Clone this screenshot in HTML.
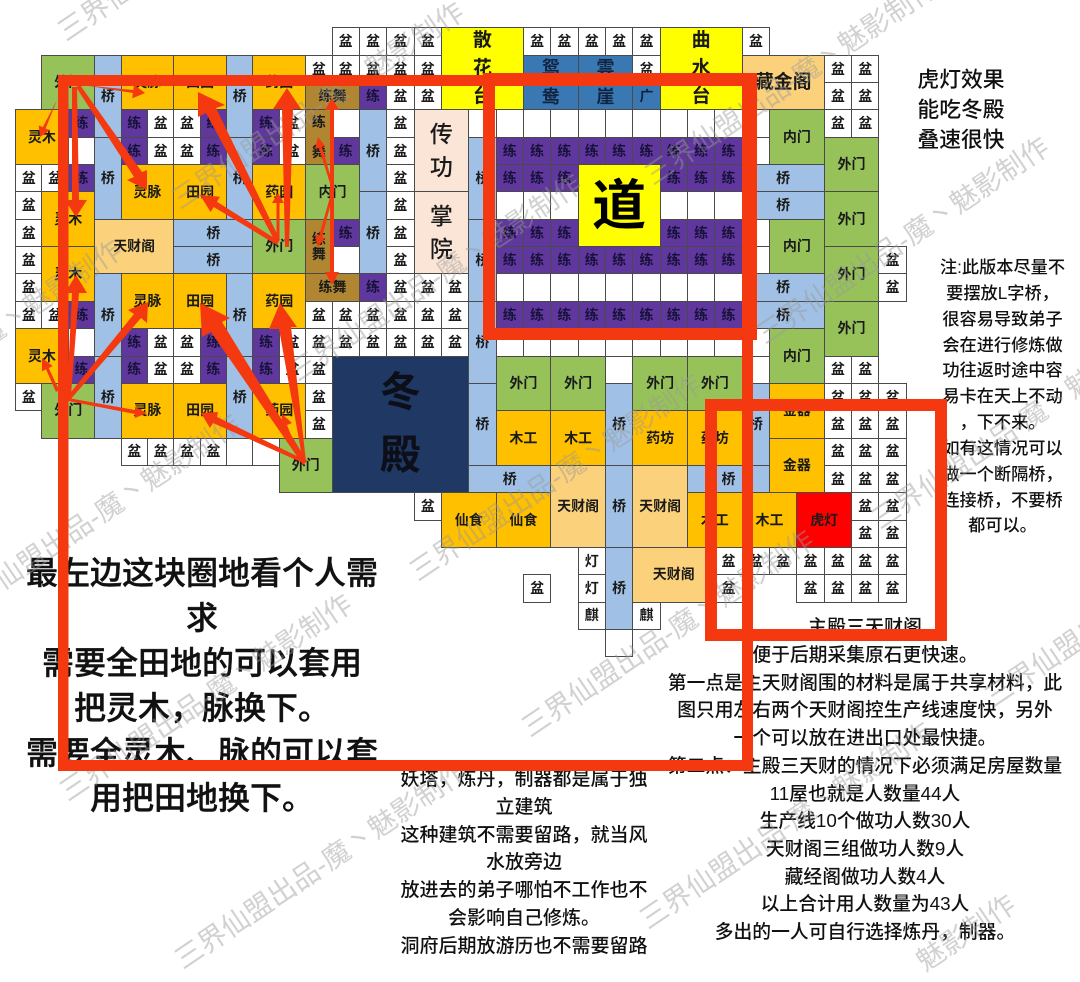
<!DOCTYPE html>
<html><head><meta charset="utf-8"><style>
html,body{margin:0;padding:0;background:#fff;width:1080px;height:982px;overflow:hidden}
#p{position:relative;width:1080px;height:982px;overflow:hidden;background:#fff;font-family:"Liberation Sans","Noto Sans CJK SC",sans-serif;color:#111}
#g{position:absolute;left:15px;top:27.4px;display:grid;grid-template-columns:repeat(12,26.39px) repeat(21,27.35px);grid-template-rows:repeat(23,27.35px);filter:blur(.35px)}
#g b{display:flex;align-items:center;justify-content:center;border:1px solid #4a4a4a;margin:0 -1px -1px 0;font-size:14px;font-weight:700;text-align:center;line-height:1.05;background:#fff;color:#1a1a1a;min-width:0;min-height:0}
#g b.o{background:#FFC000}#g b.l{background:#FBD27B}#g b.a{background:#97C25A}#g b.q{background:#A0C1E5}
#g b.p{background:#60379C;color:#17123a}#g b.y{background:#FF0;font-size:19px;font-weight:700;line-height:28px}
#g b.s{background:#3A78B4;font-size:18px;font-weight:700;line-height:29px;color:#10233f}
#g b.r{background:#B08632}#g b.k{background:#FBE5D6;font-size:23px;line-height:33px;font-weight:500}
#g b.h{background:#F00}
.t{position:absolute;text-align:center;white-space:nowrap}
svg{position:absolute;left:0;top:0;overflow:hidden}
</style></head><body><div id="p">
<div id="g">
<b style="grid-area:1/13">盆</b><b style="grid-area:1/14">盆</b><b style="grid-area:1/15">盆</b><b style="grid-area:1/16">盆</b>
<b class="y" style="grid-area:1/17/4/20">散<br>花<br>台</b>
<b style="grid-area:1/20">盆</b><b style="grid-area:1/21">盆</b><b style="grid-area:1/22">盆</b><b style="grid-area:1/23">盆</b><b style="grid-area:1/24">盆</b>
<b class="y" style="grid-area:1/25/4/28">曲<br>水<br>台</b><b style="grid-area:1/28">盆</b>

<b class="a" style="grid-area:2/2/4/4">外门</b><b class="q" style="grid-area:2/4/5/5">桥</b><b class="o" style="grid-area:2/5/4/7">灵脉</b><b class="o" style="grid-area:2/7/4/9">田园</b><b class="q" style="grid-area:2/9/5/10">桥</b><b class="o" style="grid-area:2/10/4/12">药园</b>
<b style="grid-area:2/12">盆</b><b style="grid-area:2/13">盆</b><b style="grid-area:2/14">盆</b><b style="grid-area:2/15">盆</b><b style="grid-area:2/16">盆</b>
<b class="s" style="grid-area:2/20/4/22">鸳<br>鸯</b><b class="s" style="grid-area:2/22/4/24">雲<br>崖</b><b style="grid-area:2/24">盆</b>
<b class="l" style="grid-area:2/28/4/31;font-size:19px;font-weight:700">藏金阁</b><b style="grid-area:2/31">盆</b><b style="grid-area:2/32">盆</b>

<b class="r" style="grid-area:3/12/4/14">练舞</b><b class="p" style="grid-area:3/14">练</b><b style="grid-area:3/15">盆</b><b style="grid-area:3/16">盆</b><b class="s" style="grid-area:3/24;font-size:14px">广</b><b style="grid-area:3/31">盆</b><b style="grid-area:3/32">盆</b>

<b class="o" style="grid-area:4/1/6/3">灵木</b><b class="p" style="grid-area:4/3">练</b><b class="p" style="grid-area:4/5">练</b><b style="grid-area:4/6">盆</b><b style="grid-area:4/7">盆</b><b class="p" style="grid-area:4/8">练</b><b class="p" style="grid-area:4/10">练</b><b style="grid-area:4/11">盆</b>
<b class="r" style="grid-area:4/12/6/13">练<br><br>舞</b><b style="grid-area:4/13"></b><b class="q" style="grid-area:4/14/7/15">桥</b><b style="grid-area:4/15">盆</b>
<b class="k" style="grid-area:4/16/7/18">传<br>功</b>
<b style="grid-area:4/18"></b><b style="grid-area:4/19"></b><b style="grid-area:4/20"></b><b style="grid-area:4/21"></b><b style="grid-area:4/22"></b><b style="grid-area:4/23"></b><b style="grid-area:4/24"></b><b style="grid-area:4/25"></b><b style="grid-area:4/26"></b><b style="grid-area:4/27"></b><b style="grid-area:4/28"></b>
<b class="a" style="grid-area:4/29/6/31">内门</b><b style="grid-area:4/31">盆</b><b style="grid-area:4/32">盆</b>

<b style="grid-area:5/3"></b><b class="q" style="grid-area:5/4/8/5">桥</b><b class="p" style="grid-area:5/5">练</b><b style="grid-area:5/6">盆</b><b style="grid-area:5/7">盆</b><b class="p" style="grid-area:5/8">练</b><b class="q" style="grid-area:5/9/8/10">桥</b><b class="p" style="grid-area:5/10">练</b><b style="grid-area:5/11">盆</b>
<b class="p" style="grid-area:5/13">练</b><b style="grid-area:5/15">盆</b><b class="q" style="grid-area:5/18/8/19">桥</b>
<b class="p" style="grid-area:5/19">练</b><b class="p" style="grid-area:5/20">练</b><b class="p" style="grid-area:5/21">练</b><b class="p" style="grid-area:5/22">练</b><b class="p" style="grid-area:5/23">练</b><b class="p" style="grid-area:5/24">练</b><b class="p" style="grid-area:5/25">练</b><b class="p" style="grid-area:5/26">练</b><b class="p" style="grid-area:5/27">练</b>
<b style="grid-area:5/28"></b><b class="a" style="grid-area:5/31/7/33">外门</b>

<b style="grid-area:6/1">盆</b><b style="grid-area:6/2">盆</b><b class="p" style="grid-area:6/3">练</b><b class="o" style="grid-area:6/5/8/7">灵脉</b><b class="o" style="grid-area:6/7/8/9">田园</b><b class="o" style="grid-area:6/10/8/12">药园</b><b class="a" style="grid-area:6/12/8/14">内门</b><b style="grid-area:6/15">盆</b>
<b class="p" style="grid-area:6/19">练</b><b class="p" style="grid-area:6/20">练</b><b class="p" style="grid-area:6/21">练</b>
<b style="grid-area:6/22/9/25;background:#FF0;font-size:54px;font-weight:700;color:#000;line-height:1">道</b>
<b class="p" style="grid-area:6/25">练</b><b class="p" style="grid-area:6/26">练</b><b class="p" style="grid-area:6/27">练</b><b class="q" style="grid-area:6/28/7/31">桥</b>

<b style="grid-area:7/1">盆</b><b class="o" style="grid-area:7/2/9/4">灵木</b><b class="q" style="grid-area:7/14/10/15">桥</b><b style="grid-area:7/15">盆</b><b class="k" style="grid-area:7/16/10/18">掌<br>院</b>
<b style="grid-area:7/19"></b><b style="grid-area:7/20"></b><b style="grid-area:7/21"></b><b style="grid-area:7/25"></b><b style="grid-area:7/26"></b><b style="grid-area:7/27"></b><b class="q" style="grid-area:7/28/8/31">桥</b><b class="a" style="grid-area:7/31/9/33">外门</b>

<b style="grid-area:8/1">盆</b><b class="l" style="grid-area:8/4/10/7">天财阁</b><b class="q" style="grid-area:8/7/9/10">桥</b><b class="a" style="grid-area:8/10/10/12">外门</b><b class="r" style="grid-area:8/12/10/13">练<br>舞</b><b class="p" style="grid-area:8/13">练</b><b style="grid-area:8/15">盆</b><b class="q" style="grid-area:8/18/11/19">桥</b>
<b class="p" style="grid-area:8/19">练</b><b class="p" style="grid-area:8/20">练</b><b class="p" style="grid-area:8/21">练</b><b class="p" style="grid-area:8/25">练</b><b class="p" style="grid-area:8/26">练</b><b class="p" style="grid-area:8/27">练</b><b style="grid-area:8/28"></b><b class="a" style="grid-area:8/29/10/31">内门</b>

<b style="grid-area:9/1">盆</b><b class="o" style="grid-area:9/2/11/4">灵木</b><b class="q" style="grid-area:9/7/10/10">桥</b><b style="grid-area:9/13"></b><b style="grid-area:9/15">盆</b>
<b class="p" style="grid-area:9/19">练</b><b class="p" style="grid-area:9/20">练</b><b class="p" style="grid-area:9/21">练</b><b class="p" style="grid-area:9/22">练</b><b class="p" style="grid-area:9/23">练</b><b class="p" style="grid-area:9/24">练</b><b class="p" style="grid-area:9/25">练</b><b class="p" style="grid-area:9/26">练</b><b class="p" style="grid-area:9/27">练</b>
<b style="grid-area:9/28"></b><b class="a" style="grid-area:9/31/11/33">外门</b><b style="grid-area:9/33">盆</b>

<b style="grid-area:10/1">盆</b><b class="q" style="grid-area:10/4/13/5">桥</b><b class="o" style="grid-area:10/5/12/7">灵脉</b><b class="o" style="grid-area:10/7/12/9">田园</b><b class="q" style="grid-area:10/9/13/10">桥</b><b class="o" style="grid-area:10/10/12/12">药园</b><b class="r" style="grid-area:10/12/11/14">练舞</b><b class="p" style="grid-area:10/14">练</b><b style="grid-area:10/15">盆</b><b style="grid-area:10/16">盆</b><b style="grid-area:10/17">盆</b>
<b style="grid-area:10/19"></b><b style="grid-area:10/20"></b><b style="grid-area:10/21"></b><b style="grid-area:10/22"></b><b style="grid-area:10/23"></b><b style="grid-area:10/24"></b><b style="grid-area:10/25"></b><b style="grid-area:10/26"></b><b style="grid-area:10/27"></b>
<b class="q" style="grid-area:10/28/11/31">桥</b><b style="grid-area:10/33">盆</b>

<b style="grid-area:11/1">盆</b><b style="grid-area:11/2">盆</b><b class="p" style="grid-area:11/3">练</b><b style="grid-area:11/12">盆</b><b style="grid-area:11/13">盆</b><b style="grid-area:11/14">盆</b><b style="grid-area:11/15">盆</b><b style="grid-area:11/16">盆</b><b style="grid-area:11/17">盆</b><b class="q" style="grid-area:11/18/14/19">桥</b>
<b class="p" style="grid-area:11/19">练</b><b class="p" style="grid-area:11/20">练</b><b class="p" style="grid-area:11/21">练</b><b class="p" style="grid-area:11/22">练</b><b class="p" style="grid-area:11/23">练</b><b class="p" style="grid-area:11/24">练</b><b class="p" style="grid-area:11/25">练</b><b class="p" style="grid-area:11/26">练</b><b class="p" style="grid-area:11/27">练</b>
<b class="q" style="grid-area:11/28/12/31">桥</b><b class="a" style="grid-area:11/31/13/33">外门</b>

<b class="o" style="grid-area:12/1/14/3">灵木</b><b style="grid-area:12/3"></b><b class="p" style="grid-area:12/5">练</b><b style="grid-area:12/6">盆</b><b style="grid-area:12/7">盆</b><b class="p" style="grid-area:12/8">练</b><b class="p" style="grid-area:12/10">练</b><b style="grid-area:12/11">盆</b><b style="grid-area:12/12">盆</b><b style="grid-area:12/13">盆</b><b style="grid-area:12/14">盆</b><b style="grid-area:12/15">盆</b><b style="grid-area:12/16">盆</b><b style="grid-area:12/17">盆</b>
<b style="grid-area:12/19"></b><b style="grid-area:12/20"></b><b style="grid-area:12/21"></b><b style="grid-area:12/22"></b><b style="grid-area:12/23"></b><b style="grid-area:12/24"></b><b style="grid-area:12/25"></b><b style="grid-area:12/26"></b><b style="grid-area:12/27"></b><b style="grid-area:12/28"></b><b class="a" style="grid-area:12/29/14/31">内门</b>

<b class="p" style="grid-area:13/3">练</b><b class="q" style="grid-area:13/4/16/5">桥</b><b class="p" style="grid-area:13/5">练</b><b style="grid-area:13/6">盆</b><b style="grid-area:13/7">盆</b><b class="p" style="grid-area:13/8">练</b><b class="q" style="grid-area:13/9/16/10">桥</b><b class="p" style="grid-area:13/10">练</b><b style="grid-area:13/11">盆</b><b style="grid-area:13/12">盆</b>
<b style="grid-area:13/13/18/18;background:#1F3864;color:#0c0f18;font-size:41px;font-weight:700;line-height:63px">冬<br>殿</b>
<b class="a" style="grid-area:13/19/15/21">外门</b><b class="a" style="grid-area:13/21/15/23">外门</b><b style="grid-area:13/23"></b><b class="a" style="grid-area:13/24/15/26">外门</b><b class="a" style="grid-area:13/26/15/28">外门</b><b style="grid-area:13/28"></b><b style="grid-area:13/31">盆</b><b style="grid-area:13/32">盆</b>

<b style="grid-area:14/1">盆</b><b class="a" style="grid-area:14/2/16/4">外门</b><b class="o" style="grid-area:14/5/16/7">灵脉</b><b class="o" style="grid-area:14/7/16/9">田园</b><b class="o" style="grid-area:14/10/16/12">药园</b><b style="grid-area:14/12">盆</b><b class="q" style="grid-area:14/18/17/19">桥</b><b class="q" style="grid-area:14/23/17/24">桥</b><b class="q" style="grid-area:14/28/17/29">桥</b><b class="o" style="grid-area:14/29/16/31">金器</b><b style="grid-area:14/31">盆</b><b style="grid-area:14/32">盆</b><b style="grid-area:14/33">盆</b>

<b style="grid-area:15/12">盆</b><b class="o" style="grid-area:15/19/17/21">木工</b><b class="o" style="grid-area:15/21/17/23">木工</b><b class="o" style="grid-area:15/24/17/26">药坊</b><b class="o" style="grid-area:15/26/17/28">药坊</b><b style="grid-area:15/31">盆</b><b style="grid-area:15/32">盆</b><b style="grid-area:15/33">盆</b>

<b style="grid-area:16/5">盆</b><b style="grid-area:16/6">盆</b><b style="grid-area:16/7">盆</b><b style="grid-area:16/8">盆</b><b style="grid-area:16/9"></b><b style="grid-area:16/10/17/11"></b><b class="a" style="grid-area:16/11/18/13">外门</b><b class="o" style="grid-area:16/29/18/31">金器</b><b style="grid-area:16/31">盆</b><b style="grid-area:16/32">盆</b><b style="grid-area:16/33">盆</b>

<b class="q" style="grid-area:17/18/18/21">桥</b><b class="l" style="grid-area:17/21/20/23">天财阁</b><b class="q" style="grid-area:17/23/20/24">桥</b><b class="l" style="grid-area:17/24/20/26">天财阁</b><b class="q" style="grid-area:17/26/18/29">桥</b><b style="grid-area:17/31">盆</b><b style="grid-area:17/32">盆</b><b style="grid-area:17/33">盆</b>

<b style="grid-area:18/16">盆</b><b class="o" style="grid-area:18/17/20/19">仙食</b><b class="o" style="grid-area:18/19/20/21">仙食</b><b class="o" style="grid-area:18/26/20/28">木工</b><b class="o" style="grid-area:18/28/20/30">木工</b><b class="h" style="grid-area:18/30/20/32">虎灯</b><b style="grid-area:18/32">盆</b><b style="grid-area:18/33">盆</b>
<b style="grid-area:19/32">盆</b><b style="grid-area:19/33">盆</b>

<b style="grid-area:20/22">灯</b><b class="q" style="grid-area:20/23/23/24">桥</b><b class="l" style="grid-area:20/24/22/27">天财阁</b><b style="grid-area:20/27">盆</b><b style="grid-area:20/28">盆</b><b style="grid-area:20/29">盆</b><b style="grid-area:20/30">盆</b><b style="grid-area:20/31">盆</b><b style="grid-area:20/32">盆</b><b style="grid-area:20/33">盆</b>
<b style="grid-area:21/20;border-width:1.5px">盆</b><b style="grid-area:21/22">灯</b><b style="grid-area:21/27">盆</b><b style="grid-area:21/30">盆</b><b style="grid-area:21/31">盆</b><b style="grid-area:21/32">盆</b><b style="grid-area:21/33">盆</b>
<b style="grid-area:22/22">麒</b><b style="grid-area:22/24">麒</b><b style="grid-area:23/23"></b>
</div>

<div class="t" style="left:0;width:404px;top:550.5px;font-size:32px;line-height:45px;font-weight:500;-webkit-text-stroke:.4px #111">最左边这块圈地看个人需<br>求<br>需要全田地的可以套用<br>把灵木，脉换下。<br>需要全灵木、脉的可以套<br>用把田地换下。</div>
<div class="t" style="left:384px;width:280px;top:766px;font-size:19px;line-height:27.8px;font-weight:500">妖塔，炼丹，制器都是属于独<br>立建筑<br>这种建筑不需要留路，就当风<br>水放旁边<br>放进去的弟子哪怕不工作也不<br>会影响自己修炼。<br>洞府后期放游历也不需要留路</div>
<div class="t" style="left:760px;width:210px;top:612.5px;font-size:19px;line-height:30px;font-weight:500">主殿三天财阁</div>
<div class="t" style="left:660px;width:410px;top:641px;font-size:18.8px;line-height:27.7px;font-weight:500">便于后期采集原石更快速。<br>第一点是主天财阁围的材料是属于共享材料，此<br>图只用左右两个天财阁控生产线速度快，另外<br>一个可以放在进出口处最快捷。<br>第二点：主殿三天财的情况下必须满足房屋数量<br>11屋也就是人数量44人<br>生产线10个做功人数30人<br>天财阁三组做功人数9人<br>藏经阁做功人数4人<br>以上合计用人数量为43人<br>多出的一人可自行选择炼丹，制器。</div>
<div class="t" style="left:900px;width:122px;top:65px;font-size:21.8px;line-height:30px;font-weight:500">虎灯效果<br>能吃冬殿<br>叠速很快</div>
<div class="t" style="left:925px;width:155px;top:255px;font-size:17.2px;line-height:25.85px;font-weight:500">注:此版本尽量不<br>要摆放L字桥，<br>很容易导致弟子<br>会在进行修炼做<br>功往返时途中容<br>易卡在天上不动<br>，下不来。<br>如有这情况可以<br>做一个断隔桥，<br>连接桥，不要桥<br>都可以。</div>

<svg width="1080" height="982" viewBox="0 0 1080 982" font-family="Liberation Sans, Noto Sans CJK SC, sans-serif" font-size="28" fill="#9a9a9a" fill-opacity=".45">
<text transform="translate(66 42) rotate(-34)">三界仙盟出品-魔丶魅影制作</text>
<text transform="translate(180 210) rotate(-34)">三界仙盟出品-魔丶魅影制作</text>
<text transform="translate(298 382) rotate(-34)">三界仙盟出品-魔丶魅影制作</text>
<text transform="translate(418 582) rotate(-34)">三界仙盟出品-魔丶魅影制作</text>
<text transform="translate(530 738) rotate(-34)">三界仙盟出品-魔丶魅影制作</text>
<text transform="translate(648 930) rotate(-34)">三界仙盟出品-魔丶魅影制作</text>
<text transform="translate(925 972) rotate(-34)">魅影制作</text>
<text transform="translate(653 186) rotate(-34)">三界仙盟出品-魔丶魅影制作</text>
<text transform="translate(765 345) rotate(-34)">三界仙盟出品-魔丶魅影制作</text>
<text transform="translate(880 530) rotate(-34)">三界仙盟出品-魔丶魅影制作</text>
<text transform="translate(993 708) rotate(-34)">三界仙盟出品-魔丶魅影制作</text>
<text transform="translate(-162 448) rotate(-34)">三界仙盟出品-魔丶魅影制作</text>
<text transform="translate(-44 622) rotate(-34)">三界仙盟出品-魔丶魅影制作</text>
<text transform="translate(68 802) rotate(-34)">三界仙盟出品-魔丶魅影制作</text>
<text transform="translate(183 970) rotate(-34)">三界仙盟出品-魔丶魅影制作</text>
</svg>

<svg width="1080" height="982" viewBox="0 0 1080 982" fill="#F4380F" stroke="none">
<polygon points="57,100 45.6,128.5 49.7,130.4 40,137 38.7,125.4 42.8,127.3"/>
<polygon points="83,85 132.9,93 132.2,98.4 145,93 134,84.6 133.3,90"/>
<polygon points="72,87 77,87 79,200 87,200 76,217 65,200 72,200"/>
<polygon points="76,87 80,85 142,172 147,170 147,190 127,180 134,177"/>
<polygon points="280,240 216,108 225,105 198,92 198,117 206,113 276,243"/>
<polygon points="279,241 216.9,201.8 220,196.7 200,195 210.6,212 213.7,207 277,245"/>
<polygon points="285,247 289,247 293,109 301,109 287,88 273,109 282,109"/>
<polygon points="276.5,240 279.5,240 279.5,203 284,203 278,193 272,203 276.5,203"/>
<polygon points="330,190 334,190 334,110 339,110 332,98 325,110 330,110"/>
<polygon points="330,190 334,190 334,272 339,272 332,285 325,272 330,272"/>
<polygon points="332,190 334.5,190 322,147 325,146 318,137 315,149 319,148"/>
<polygon points="332,190 334.5,190 322,237 325,238 318,247 315,235 319,236"/>
<polygon points="59,390 48.7,368 52.7,366 42,358 42,371.4 46,369.3 56,392"/>
<polygon points="67,395 71,395 79,293 87,293 76,275 65,293 72,293"/>
<polygon points="67,397 70,400 141,318 147,323 148,302 128,310 134,314"/>
<polygon points="68,398 135,410 135,407 147,413 135,418 135,414 68,401"/>
<polygon points="307,461 222,322 230,318 200,303 202,337 211,332 303,465"/>
<polygon points="306,462 291,327 297,327 280,303 269,329 279,329 303,462"/>
<polygon points="305,460 217,417 218,412 201,413 210,428 213,423 303,463"/>
<polygon points="300,458 287,425 292,423 282,414 281,428 285,426 298,459"/>
<rect x="58" y="75" width="699" height="11"/>
<rect x="58" y="75" width="10.5" height="696"/>
<rect x="58" y="760" width="695" height="11"/>
<rect x="742" y="75" width="11" height="696"/>
<rect x="483" y="73" width="274" height="12"/>
<rect x="483" y="328" width="274" height="12"/>
<rect x="483" y="73" width="12" height="267"/>
<rect x="742" y="73" width="15" height="267"/>
<rect x="705" y="399" width="242" height="12"/>
<rect x="705" y="629" width="242" height="12"/>
<rect x="705" y="399" width="12" height="242"/>
<rect x="935" y="399" width="12" height="242"/>
</svg>
</div></body></html>
